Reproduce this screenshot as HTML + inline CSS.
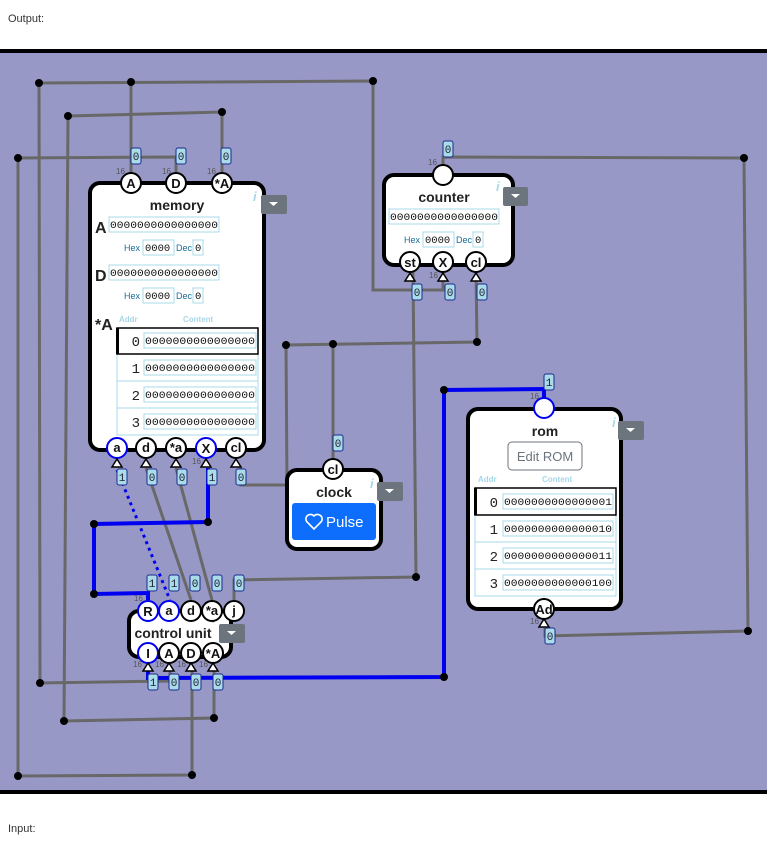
<!DOCTYPE html>
<html><head><meta charset="utf-8"><style>
html,body{margin:0;padding:0;background:#fff;width:767px;height:850px;overflow:hidden}
svg{display:block}
.w{stroke:#686868;stroke-width:3;fill:none}
.b{stroke:#0000f0;stroke-width:4;fill:none}
.d{fill:#000}
.t{font-family:"Liberation Sans",sans-serif}
.m{font-family:"Liberation Mono",monospace}
.pin{fill:#fff;stroke:#000;stroke-width:2}
.pinb{fill:#fff;stroke:#0000f0;stroke-width:2}
.pt{font-family:"Liberation Sans",sans-serif;font-size:13px;font-weight:bold;text-anchor:middle;fill:#111}
.lb{fill:#a9dbe9;stroke:#1a2a90;stroke-width:1}
.lt{font-family:"Liberation Mono",monospace;font-size:11px;text-anchor:middle;fill:#223}
.sm{font-family:"Liberation Sans",sans-serif;font-size:8px;fill:#555}
.tri{fill:#fff;stroke:#000;stroke-width:1.5}
.box{fill:#fff;stroke:#000;stroke-width:4}
.cell{fill:#fff;stroke:#a8d8e8;stroke-width:1}
.bits{font-family:"Liberation Mono",monospace;font-size:10.5px;fill:#111}
.hx{font-family:"Liberation Sans",sans-serif;font-size:9px;fill:#1a6d9a}
.dd{fill:#6c757d}
.ti{font-family:"Liberation Sans",sans-serif;font-size:14px;font-weight:bold;text-anchor:middle;fill:#222}
</style></head><body>
<svg width="767" height="850" viewBox="0 0 767 850">
<text x="8" y="22" class="t" font-size="11" fill="#333">Output:</text>
<rect x="0" y="49" width="767" height="4" fill="#000"/>
<rect x="0" y="53" width="767" height="737" fill="#9898c6"/>
<rect x="0" y="790" width="767" height="4" fill="#000"/>
<text x="8" y="832" class="t" font-size="11" fill="#333">Input:</text>

<polyline class="w" points="131,172 131,82"/>
<polyline class="w" points="39,83 373,81 373,290 443,290 443,272"/>
<polyline class="w" points="39,83 40,683 170,681 170,668"/>
<polyline class="w" points="68,116 222,112 222,172"/>
<polyline class="w" points="68,116 64,721 214,718 214,668"/>
<polyline class="w" points="18,158 176,157 176,172"/>
<polyline class="w" points="18,158 18,776 192,775 192,668"/>
<polyline class="w" points="443,165 443,157 744,158 748,631 545,636 545,628"/>
<polyline class="w" points="476,272 477,342 286,345 287,485 241,485 241,468"/>
<polyline class="w" points="333,344 333,458"/>
<polyline class="w" points="413,272 416,577 234,580 234,600"/>
<polyline class="w" points="146,468 191,600"/>
<polyline class="w" points="176,468 212,600"/>
<polyline class="b" points="208,468 208,522 94,524 94,594 148,593 148,600"/>
<line x1="117" y1="470" x2="170" y2="600" stroke="#0000f0" stroke-width="3" stroke-dasharray="3,4"/>
<polyline class="b" points="148,668 148,678 444,677 444,390 544,389 544,398"/>

<g class="d">
<circle cx="39" cy="83" r="4"/><circle cx="131" cy="82" r="4"/><circle cx="373" cy="81" r="4"/>
<circle cx="68" cy="116" r="4"/><circle cx="222" cy="112" r="4"/><circle cx="18" cy="158" r="4"/>
<circle cx="744" cy="158" r="4"/><circle cx="286" cy="345" r="4"/><circle cx="333" cy="344" r="4"/>
<circle cx="477" cy="342" r="4"/><circle cx="444" cy="390" r="4"/><circle cx="94" cy="524" r="4"/>
<circle cx="208" cy="522" r="4"/><circle cx="94" cy="594" r="4"/><circle cx="416" cy="577" r="4"/>
<circle cx="40" cy="683" r="4"/><circle cx="444" cy="677" r="4"/><circle cx="64" cy="721" r="4"/>
<circle cx="214" cy="718" r="4"/><circle cx="18" cy="776" r="4"/><circle cx="192" cy="775" r="4"/>
<circle cx="748" cy="631" r="4"/>
</g>

<!-- MEMORY -->
<rect class="box" x="90" y="183" width="174" height="267" rx="10"/>
<text x="177" y="210" class="ti">memory</text>
<text x="253" y="201" class="t" font-size="13" font-style="italic" font-weight="bold" fill="#a8d8e8">i</text>
<rect class="dd" x="261" y="195" width="26" height="19" rx="2"/><path d="M269,202 h9 l-4.5,4z" fill="#fff"/>
<text x="95" y="233" class="t" font-size="16" font-weight="bold" fill="#222">A</text>
<rect class="cell" x="109" y="217" width="110" height="15"/>
<text x="110" y="228" class="bits" textLength="108" lengthAdjust="spacingAndGlyphs">0000000000000000</text>
<text x="124" y="251" class="hx">Hex</text><rect class="cell" x="143" y="240" width="31" height="15"/><text x="145" y="251" class="bits">0000</text>
<text x="176" y="251" class="hx">Dec</text><rect class="cell" x="193" y="240" width="10" height="15"/><text x="195" y="251" class="bits">0</text>
<text x="95" y="281" class="t" font-size="16" font-weight="bold" fill="#222">D</text>
<rect class="cell" x="109" y="265" width="110" height="15"/>
<text x="110" y="276" class="bits" textLength="108" lengthAdjust="spacingAndGlyphs">0000000000000000</text>
<text x="124" y="299" class="hx">Hex</text><rect class="cell" x="143" y="288" width="31" height="15"/><text x="145" y="299" class="bits">0000</text>
<text x="176" y="299" class="hx">Dec</text><rect class="cell" x="193" y="288" width="10" height="15"/><text x="195" y="299" class="bits">0</text>
<text x="95" y="330" class="t" font-size="16" font-weight="bold" fill="#222">*A</text>
<text x="119" y="322" class="t" font-size="8" font-weight="bold" fill="#a8d8e8">Addr</text>
<text x="183" y="322" class="t" font-size="8" font-weight="bold" fill="#a8d8e8">Content</text>
<rect x="117" y="354" width="141" height="81" fill="#fff" stroke="#a8d8e8"/>
<line x1="117" y1="381" x2="258" y2="381" stroke="#a8d8e8"/><line x1="117" y1="408" x2="258" y2="408" stroke="#a8d8e8"/>
<rect x="117" y="328" width="141" height="26" fill="#fff" stroke="#000" stroke-width="1.5"/>
<line x1="117.5" y1="328" x2="117.5" y2="354" stroke="#000" stroke-width="3"/>
<g class="m" font-size="14" fill="#222" text-anchor="end">
<text x="140" y="346">0</text><text x="140" y="373">1</text><text x="140" y="400">2</text><text x="140" y="427">3</text></g>
<rect class="cell" x="144" y="333" width="112" height="15"/><text x="145" y="344" class="bits" textLength="110" lengthAdjust="spacingAndGlyphs">0000000000000000</text>
<rect class="cell" x="144" y="360" width="112" height="15"/><text x="145" y="371" class="bits" textLength="110" lengthAdjust="spacingAndGlyphs">0000000000000000</text>
<rect class="cell" x="144" y="387" width="112" height="15"/><text x="145" y="398" class="bits" textLength="110" lengthAdjust="spacingAndGlyphs">0000000000000000</text>
<rect class="cell" x="144" y="414" width="112" height="15"/><text x="145" y="425" class="bits" textLength="110" lengthAdjust="spacingAndGlyphs">0000000000000000</text>
<circle class="pin" cx="131" cy="183" r="10"/><text x="131" y="188" class="pt">A</text>
<circle class="pin" cx="176" cy="183" r="10"/><text x="176" y="188" class="pt">D</text>
<circle class="pin" cx="222" cy="183" r="10"/><text x="222" y="188" class="pt">*A</text>
<text x="116" y="174" class="sm">16</text><text x="162" y="174" class="sm">16</text><text x="207" y="174" class="sm">16</text>
<circle class="pinb" cx="117" cy="448" r="10"/><text x="117" y="452" class="pt">a</text>
<circle class="pin" cx="146" cy="448" r="10"/><text x="146" y="452" class="pt">d</text>
<circle class="pin" cx="176" cy="448" r="10"/><text x="176" y="452" class="pt">*a</text>
<circle class="pinb" cx="206" cy="448" r="10"/><text x="206" y="453" class="pt">X</text>
<circle class="pin" cx="236" cy="448" r="10"/><text x="236" y="452" class="pt">cl</text>
<text x="192" y="464" class="sm">16</text>
<path class="tri" d="M117,459 l-5,8 h10z"/><path class="tri" d="M146,459 l-5,8 h10z"/><path class="tri" d="M176,459 l-5,8 h10z"/><path class="tri" d="M206,459 l-5,8 h10z"/><path class="tri" d="M236,459 l-5,8 h10z"/>

<!-- COUNTER -->
<rect class="box" x="384" y="175" width="129" height="90" rx="10"/>
<text x="444" y="202" class="ti">counter</text>
<text x="496" y="191" class="t" font-size="13" font-style="italic" font-weight="bold" fill="#a8d8e8">i</text>
<rect class="dd" x="503" y="187" width="25" height="19" rx="2"/><path d="M511,194 h9 l-4.5,4z" fill="#fff"/>
<rect class="cell" x="389" y="209" width="110" height="15"/>
<text x="390" y="220" class="bits" textLength="108" lengthAdjust="spacingAndGlyphs">0000000000000000</text>
<text x="404" y="243" class="hx">Hex</text><rect class="cell" x="423" y="232" width="31" height="15"/><text x="425" y="243" class="bits">0000</text>
<text x="456" y="243" class="hx">Dec</text><rect class="cell" x="473" y="232" width="10" height="15"/><text x="475" y="243" class="bits">0</text>
<circle class="pin" cx="443" cy="175" r="10"/><text x="428" y="165" class="sm">16</text>
<circle class="pin" cx="410" cy="262" r="10"/><text x="410" y="267" class="pt">st</text>
<circle class="pin" cx="443" cy="262" r="10"/><text x="443" y="267" class="pt">X</text>
<circle class="pin" cx="476" cy="262" r="10"/><text x="476" y="267" class="pt">cl</text>
<text x="429" y="278" class="sm">16</text>
<path class="tri" d="M410,273 l-5,8 h10z"/><path class="tri" d="M443,273 l-5,8 h10z"/><path class="tri" d="M476,273 l-5,8 h10z"/>

<!-- CLOCK -->
<rect class="box" x="287" y="470" width="94" height="79" rx="10"/>
<text x="334" y="497" class="ti">clock</text>
<text x="370" y="488" class="t" font-size="13" font-style="italic" font-weight="bold" fill="#a8d8e8">i</text>
<rect class="dd" x="377" y="482" width="26" height="19" rx="2"/><path d="M385,489 h9 l-4.5,4z" fill="#fff"/>
<rect x="292" y="503" width="84" height="37" rx="3" fill="#0d6efd"/>
<path d="M314,529 l-7,-7 a4,4 0 0 1 7,-6 a4,4 0 0 1 7,6z" fill="none" stroke="#fff" stroke-width="1.6"/>
<text x="326" y="527" class="t" font-size="15" fill="#fff">Pulse</text>
<circle class="pin" cx="333" cy="469" r="10"/><text x="333" y="474" class="pt">cl</text>

<!-- ROM -->
<rect class="box" x="468" y="409" width="153" height="200" rx="10"/>
<text x="545" y="436" class="ti">rom</text>
<text x="612" y="427" class="t" font-size="13" font-style="italic" font-weight="bold" fill="#a8d8e8">i</text>
<rect class="dd" x="618" y="421" width="26" height="19" rx="2"/><path d="M626,428 h9 l-4.5,4z" fill="#fff"/>
<rect x="508" y="442" width="74" height="28" rx="4" fill="#fff" stroke="#6c757d"/>
<text x="545" y="461" class="t" font-size="13" text-anchor="middle" fill="#6c757d">Edit ROM</text>
<text x="478" y="482" class="t" font-size="8" font-weight="bold" fill="#a8d8e8">Addr</text>
<text x="542" y="482" class="t" font-size="8" font-weight="bold" fill="#a8d8e8">Content</text>
<rect x="475" y="515" width="141" height="81" fill="#fff" stroke="#a8d8e8"/>
<line x1="475" y1="542" x2="616" y2="542" stroke="#a8d8e8"/><line x1="475" y1="569" x2="616" y2="569" stroke="#a8d8e8"/>
<rect x="475" y="488" width="141" height="27" fill="#fff" stroke="#000" stroke-width="1.5"/>
<line x1="475.5" y1="488" x2="475.5" y2="515" stroke="#000" stroke-width="3"/>
<g class="m" font-size="14" fill="#222" text-anchor="end">
<text x="498" y="507">0</text><text x="498" y="534">1</text><text x="498" y="561">2</text><text x="498" y="588">3</text></g>
<rect class="cell" x="503" y="494" width="110" height="15"/><text x="504" y="505" class="bits" textLength="108" lengthAdjust="spacingAndGlyphs">0000000000000001</text>
<rect class="cell" x="503" y="521" width="110" height="15"/><text x="504" y="532" class="bits" textLength="108" lengthAdjust="spacingAndGlyphs">0000000000000010</text>
<rect class="cell" x="503" y="548" width="110" height="15"/><text x="504" y="559" class="bits" textLength="108" lengthAdjust="spacingAndGlyphs">0000000000000011</text>
<rect class="cell" x="503" y="575" width="110" height="15"/><text x="504" y="586" class="bits" textLength="108" lengthAdjust="spacingAndGlyphs">0000000000000100</text>
<circle class="pinb" cx="544" cy="408" r="10"/><text x="530" y="399" class="sm">16</text>
<circle class="pin" cx="544" cy="609" r="10"/><text x="544" y="614" class="pt">Ad</text>
<text x="530" y="624" class="sm">16</text>
<path class="tri" d="M544,619 l-5,8 h10z"/>

<!-- CONTROL UNIT -->
<rect class="box" x="129" y="611" width="102" height="46" rx="10"/>
<text x="173" y="638" class="ti">control unit</text>
<text x="212" y="623" class="t" font-size="13" font-style="italic" font-weight="bold" fill="#a8d8e8">i</text>
<rect class="dd" x="219" y="624" width="26" height="19" rx="2"/><path d="M227,631 h9 l-4.5,4z" fill="#fff"/>
<circle class="pinb" cx="148" cy="611" r="10"/><text x="148" y="616" class="pt">R</text>
<circle class="pinb" cx="169" cy="611" r="10"/><text x="169" y="615" class="pt">a</text>
<circle class="pin" cx="191" cy="611" r="10"/><text x="191" y="615" class="pt">d</text>
<circle class="pin" cx="212" cy="611" r="10"/><text x="212" y="615" class="pt">*a</text>
<circle class="pin" cx="234" cy="611" r="10"/><text x="234" y="615" class="pt">j</text>
<text x="134" y="601" class="sm">16</text>
<circle class="pinb" cx="148" cy="653" r="10"/><text x="148" y="658" class="pt">I</text>
<circle class="pin" cx="169" cy="653" r="10"/><text x="169" y="658" class="pt">A</text>
<circle class="pin" cx="191" cy="653" r="10"/><text x="191" y="658" class="pt">D</text>
<circle class="pin" cx="213" cy="653" r="10"/><text x="213" y="658" class="pt">*A</text>
<text x="133" y="667" class="sm">16</text><text x="155" y="667" class="sm">16</text><text x="177" y="667" class="sm">16</text><text x="199" y="667" class="sm">16</text>
<path class="tri" d="M148,663 l-5,8 h10z"/><path class="tri" d="M169,663 l-5,8 h10z"/><path class="tri" d="M191,663 l-5,8 h10z"/><path class="tri" d="M213,663 l-5,8 h10z"/>

<g>
<rect class="lb" x="131" y="148" width="10" height="16" rx="2"/><text class="lt" x="136" y="160">0</text>
<rect class="lb" x="176" y="148" width="10" height="16" rx="2"/><text class="lt" x="181" y="160">0</text>
<rect class="lb" x="221" y="148" width="10" height="16" rx="2"/><text class="lt" x="226" y="160">0</text>
<rect class="lb" x="443" y="141" width="10" height="16" rx="2"/><text class="lt" x="448" y="153">0</text>
<rect class="lb" x="412" y="284" width="10" height="16" rx="2"/><text class="lt" x="417" y="296">0</text>
<rect class="lb" x="445" y="284" width="10" height="16" rx="2"/><text class="lt" x="450" y="296">0</text>
<rect class="lb" x="477" y="284" width="10" height="16" rx="2"/><text class="lt" x="482" y="296">0</text>
<rect class="lb" x="117" y="469" width="10" height="16" rx="2"/><text class="lt" x="122" y="481">1</text>
<rect class="lb" x="147" y="469" width="10" height="16" rx="2"/><text class="lt" x="152" y="481">0</text>
<rect class="lb" x="177" y="469" width="10" height="16" rx="2"/><text class="lt" x="182" y="481">0</text>
<rect class="lb" x="207" y="469" width="10" height="16" rx="2"/><text class="lt" x="212" y="481">1</text>
<rect class="lb" x="236" y="469" width="10" height="16" rx="2"/><text class="lt" x="241" y="481">0</text>
<rect class="lb" x="333" y="435" width="10" height="16" rx="2"/><text class="lt" x="338" y="447">0</text>
<rect class="lb" x="544" y="374" width="10" height="16" rx="2"/><text class="lt" x="549" y="386">1</text>
<rect class="lb" x="545" y="628" width="10" height="16" rx="2"/><text class="lt" x="550" y="640">0</text>
<rect class="lb" x="147" y="575" width="10" height="16" rx="2"/><text class="lt" x="152" y="587">1</text>
<rect class="lb" x="169" y="575" width="10" height="16" rx="2"/><text class="lt" x="174" y="587">1</text>
<rect class="lb" x="190" y="575" width="10" height="16" rx="2"/><text class="lt" x="195" y="587">0</text>
<rect class="lb" x="212" y="575" width="10" height="16" rx="2"/><text class="lt" x="217" y="587">0</text>
<rect class="lb" x="234" y="575" width="10" height="16" rx="2"/><text class="lt" x="239" y="587">0</text>
<rect class="lb" x="148" y="674" width="10" height="16" rx="2"/><text class="lt" x="153" y="686">1</text>
<rect class="lb" x="169" y="674" width="10" height="16" rx="2"/><text class="lt" x="174" y="686">0</text>
<rect class="lb" x="191" y="674" width="10" height="16" rx="2"/><text class="lt" x="196" y="686">0</text>
<rect class="lb" x="213" y="674" width="10" height="16" rx="2"/><text class="lt" x="218" y="686">0</text>
</g>
</svg>
</body></html>
